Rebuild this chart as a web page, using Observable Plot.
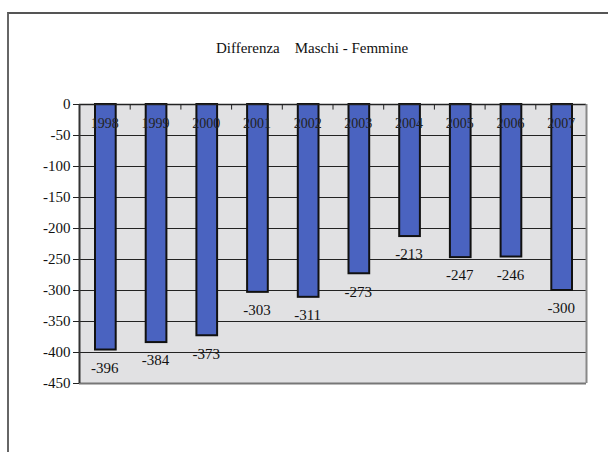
<!DOCTYPE html>
<html>
<head>
<meta charset="utf-8">
<script src="https://cdn.jsdelivr.net/npm/d3@7"></script>
<script src="https://cdn.jsdelivr.net/npm/@observablehq/plot@0.6"></script>
<style>
  html, body { margin: 0; padding: 0; background: #fff; }
  #wrap { position: relative; width: 608px; height: 452px; overflow: hidden; }
  #border { position: absolute; left: 7px; top: 12px; width: 620px; height: 460px;
            border-top: 2px solid #555; border-left: 2px solid #666; }
  #title { position: absolute; left: 0; top: 40px; width: 624px; text-align: center;
           font: 15px "Liberation Serif", serif; color: #111; white-space: pre; }
  #chart { position: absolute; left: 0; top: 0; }
</style>
</head>
<body>
<div id="wrap">
  <div id="border"></div>
  <div id="title">Differenza    Maschi - Femmine</div>
  <div id="chart"></div>
</div>
<script>
const years = [1998, 1999, 2000, 2001, 2002, 2003, 2004, 2005, 2006, 2007];
const values = [-396, -384, -373, -303, -311, -273, -213, -247, -246, -300];
const yTicks = [0, -50, -100, -150, -200, -250, -300, -350, -400, -450];

const data = years.map((y, i) => ({year: y, value: values[i]}));
const boundaries = years.slice(1).map(y => y - 0.5);

const chart = Plot.plot({
  width: 608,
  height: 452,
  marginTop: 104,
  marginBottom: 69,
  marginLeft: 79,
  marginRight: 22,
  style: {background: "transparent", fontFamily: "Liberation Serif, serif", fontSize: "15px", color: "#111"},
  x: {domain: [years[0] - 0.5, years[years.length - 1] + 0.5], axis: null},
  y: {domain: [-450, 0], axis: null},
  marks: [
    Plot.frame({fill: "#e1e1e3", stroke: null}),
    Plot.ruleY(yTicks.filter(d => d < 0 && d > -450), {stroke: "#222", strokeWidth: 1}),
    Plot.rectY(data, {x1: d => d.year - 0.5, x2: d => d.year + 0.5, y1: 0, y2: "value",
      insetLeft: 16, insetRight: 14, fill: "#4a63c0", stroke: "#111", strokeWidth: 2}),
    Plot.text(data, {x: "year", y: 0, text: d => String(d.year), dy: 19, fontSize: 14, fill: "#222"}),
    Plot.ruleX(boundaries, {y1: 0, y2: -9, stroke: "#222", strokeWidth: 1}),
    Plot.ruleY([0], {stroke: "#222", strokeWidth: 1.5}),
    Plot.ruleY([-450], {stroke: "#777", strokeWidth: 2}),
    Plot.ruleX([years[years.length - 1] + 0.5], {stroke: "#888", strokeWidth: 2}),
    Plot.ruleX([years[0] - 0.5], {stroke: "#333", strokeWidth: 2}),
    Plot.text(data, {x: "year", y: "value", text: d => String(d.value), dy: 18, fontSize: 15, fill: "#111"}),
    Plot.axisY({ticks: yTicks, tickFormat: d => String(d), tickSize: 6, tickPadding: 3, label: null,
      fontSize: 15, stroke: "#222", fill: "#111"})
  ]
});
document.getElementById("chart").appendChild(chart);
</script>
</body>
</html>
